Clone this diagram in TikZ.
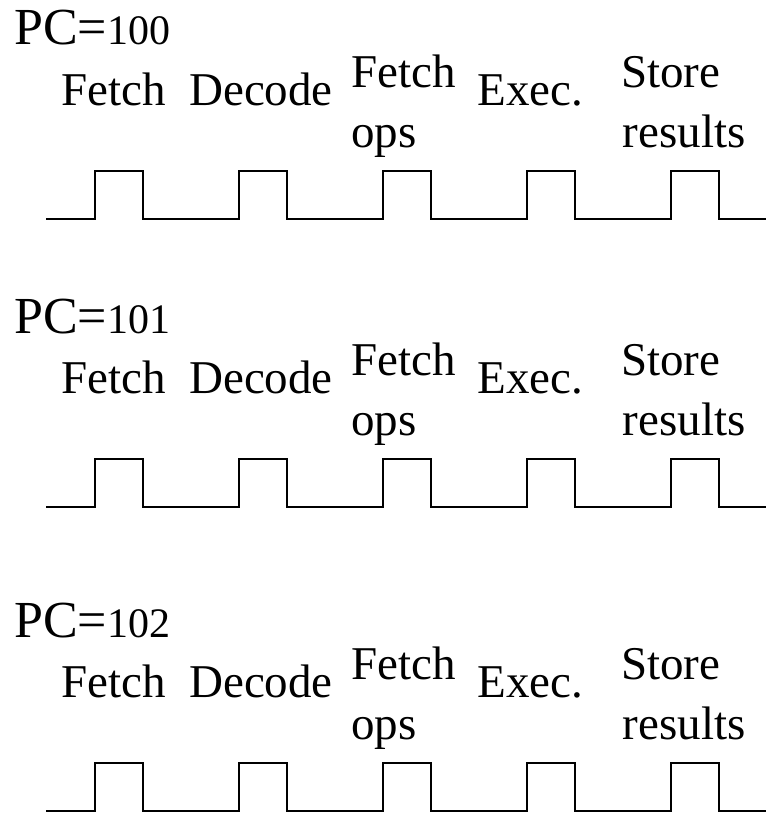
\documentclass[tikz,border=0pt]{standalone}
\usepackage{fontspec}
\setmainfont{Liberation Serif}
\begin{document}
\begin{tikzpicture}[x=1pt,y=-1pt,
  lbl/.style={anchor=base west, inner sep=0pt, font=\fontsize{47}{56}\selectfont},
  pcl/.style={anchor=base west, inner sep=0pt, font=\fontsize{52}{60}\selectfont},
  wave/.style={line width=2pt, line join=miter}]
\useasboundingbox (0,0) rectangle (768,816);
% one block per program-counter value: stage names above a clock trace
\foreach \pc/\dy [count=\i] in {100/0,101/288,102/592}{
  \begin{scope}[shift={(0,\dy)}]
    \node[pcl] (pc\i) at (14,45) {PC=\fontsize{42}{48}\selectfont\pc};
    \node[lbl] (fetch\i)  at (61.5,105) {Fetch};
    \node[lbl] (decode\i) at (189,105)  {Decode};
    \node[lbl] (fops\i)   at (351,87)   {Fetch};
    \node[lbl] (fopsb\i)  at (351,147)  {ops};
    \node[lbl] (exec\i)   at (477.5,105) {Exec.};
    \node[lbl] (store\i)  at (621,87)   {Store};
    \node[lbl] (storeb\i) at (622.5,147) {results};
    % five clock pulses, one per stage
    \coordinate (w\i) at (46,219);
    \draw[wave] (w\i) \foreach \k in {0,...,4}{
      -- ++(49,0) -- ++(0,-48) -- ++(48,0) -- ++(0,48) -- ++(47,0)};
  \end{scope}
}
\end{tikzpicture}
\end{document}
